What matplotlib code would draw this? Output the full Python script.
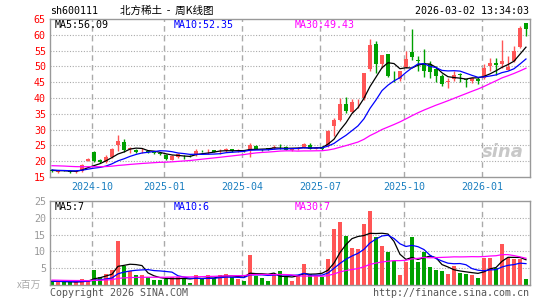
import numpy as np
import matplotlib
matplotlib.use("Agg")
import matplotlib.pyplot as plt

# weekly candles, 600111, oldest first
open_ = [17.2, 16.6, 17.05, 17.0, 16.5, 16.9, 20.2, 23.0, 20.4, 19.8,
         21.2, 25.2, 26.0, 23.9, 23.7, 23.4, 23.3, 22.8, 22.5, 22.0,
         20.5, 21.3, 21.6, 21.8, 21.9, 23.3, 23.2, 23.4, 23.2, 23.7,
         23.8, 23.4, 23.5, 23.6, 24.8, 23.6, 24.0, 24.2, 24.8, 24.5,
         23.6, 23.9, 24.3, 25.2, 24.0, 24.6, 24.7, 31.0, 33.1, 38.1,
         35.7, 39.0, 39.9, 49.1, 57.0, 50.8, 53.9, 46.7, 46.1, 49.8,
         54.5, 52.0, 51.2, 50.7, 49.1, 47.0, 45.0, 45.9, 47.5, 45.9,
         45.3, 45.9, 46.4, 50.2, 51.2, 50.7, 49.0, 51.7, 56.2, 63.6]
close = [16.9, 16.8, 17.0, 16.5, 16.8, 18.8, 20.7, 20.2, 19.6, 21.3,
         24.0, 26.3, 23.4, 24.1, 22.9, 23.5, 22.9, 22.5, 22.2, 20.6,
         21.7, 22.2, 21.5, 21.6, 23.3, 23.2, 23.3, 23.0, 23.3, 23.8,
         23.1, 23.5, 23.1, 25.0, 24.0, 23.5, 23.9, 24.6, 24.7, 23.7,
         23.7, 24.1, 25.3, 24.0, 24.1, 23.9, 29.7, 33.0, 38.2, 35.9,
         38.6, 39.1, 47.8, 56.7, 50.8, 53.5, 47.0, 46.5, 48.5, 52.4,
         53.0, 51.6, 48.5, 48.3, 47.1, 44.4, 45.4, 47.2, 47.3, 45.7,
         46.2, 45.5, 49.55, 51.2, 50.6, 51.7, 49.85, 54.9, 62.3, 61.7]
high = [17.4, 17.0, 17.2, 17.1, 17.0, 19.2, 20.9, 23.1, 20.7, 22.0,
        24.2, 28.2, 27.0, 24.4, 24.0, 24.3, 23.5, 23.0, 22.7, 22.2,
        22.0, 22.7, 22.1, 22.0, 24.0, 23.7, 24.0, 23.6, 23.8, 24.2,
        24.0, 23.9, 23.7, 25.7, 25.1, 23.8, 24.3, 25.1, 25.3, 24.7,
        24.0, 24.4, 25.8, 25.8, 24.4, 24.9, 29.9, 33.7, 39.9, 40.3,
        39.6, 39.8, 48.0, 58.8, 58.0, 53.6, 53.9, 48.6, 48.7, 54.9,
        61.7, 53.3, 55.4, 51.7, 50.1, 47.5, 46.2, 48.5, 47.8, 46.1,
        46.8, 46.5, 50.7, 52.6, 52.5, 58.2, 53.2, 56.5, 62.7, 63.8]
low = [16.7, 16.2, 16.8, 16.4, 16.3, 16.6, 20.0, 19.9, 19.4, 19.5,
       21.0, 23.1, 23.0, 22.6, 22.7, 22.6, 22.7, 22.2, 21.9, 20.4,
       20.3, 21.0, 20.7, 21.3, 21.5, 22.8, 22.4, 22.8, 22.4, 22.9,
       22.9, 23.0, 22.9, 21.2, 23.8, 23.2, 23.6, 24.0, 24.0, 23.5,
       23.3, 23.7, 24.1, 23.9, 23.8, 23.7, 24.5, 28.0, 32.8, 35.4,
       35.4, 36.8, 39.5, 48.4, 48.0, 49.5, 46.5, 45.1, 45.4, 49.5,
       52.0, 48.5, 46.6, 46.4, 45.0, 43.8, 43.1, 45.4, 45.0, 43.5,
       44.9, 44.5, 45.9, 48.6, 47.2, 49.6, 48.8, 51.5, 55.9, 59.6]
# volume, millions of shares
volume = [1.3, 0.8, 0.8, 0.8, 0.8, 1.8, 1.4, 4.4, 2.4, 3.4,
          4.4, 13.2, 5.8, 4.1, 2.9, 2.9, 2.3, 1.5, 1.4, 1.7,
          2.5, 2.3, 2.0, 0.5, 2.9, 2.0, 2.9, 2.0, 2.9, 3.4,
          2.3, 1.9, 1.2, 8.8, 2.7, 2.1, 1.2, 2.9, 4.1, 2.4,
          1.3, 3.0, 6.2, 3.2, 2.7, 2.3, 7.6, 16.8, 18.8, 14.7,
          11.1, 10.8, 18.2, 22.1, 14.4, 11.5, 9.7, 7.2, 2.9, 6.8,
          14.4, 6.8, 9.7, 5.3, 4.5, 4.1, 3.2, 5.6, 3.5, 3.2,
          2.9, 2.1, 7.9, 7.9, 5.2, 12.1, 8.1, 7.8, 7.8, 1.8]
# weeks before the window, only used to start the moving averages
prior_close = [18.2, 18.9, 19.6, 19.3, 19.8, 20.4, 20.1, 19.5, 19.9, 20.3,
               19.6, 19.0, 18.7, 18.4, 18.9, 19.2, 18.6, 18.8, 19.4, 18.5,
               17.8, 17.5, 17.3, 17.1, 16.9, 17.3, 17.0, 17.2, 17.1]
prior_vol = [1.8, 2.1, 1.6, 1.4, 1.9, 2.2, 1.7, 1.5, 1.3, 1.6,
             1.8, 1.4, 1.2, 1.5, 1.7, 1.9, 1.6, 1.3, 1.4, 1.5,
             1.2, 1.1, 1.3, 1.0, 1.2, 0.9, 1.1, 1.0, 1.2]

month_idx = [7, 19, 32, 45, 59, 72]
month_lbl = ["2024-10", "2025-01", "2025-04", "2025-07", "2025-10", "2026-01"]

RED = "#ff5555"
GREEN = "#00a000"
MONO = "DejaVu Sans Mono"
W, H = 545, 300


def ma(prior, vals, n):
    s = np.array(prior + vals, dtype=float)
    out = np.convolve(s, np.ones(n) / n, mode="valid")
    return out[-len(vals):]


x = np.arange(len(close))
o = np.array(open_)
c = np.array(close)
up = c >= o
cols = np.where(up, RED, GREEN)

fig = plt.figure(figsize=(W / 100, H / 100), dpi=100)
ax = fig.add_axes([50 / W, 1 - 177 / H, 480 / W, 158 / H])
axv = fig.add_axes([50 / W, 1 - 285 / H, 480 / W, 84 / H])

for a in (ax, axv):
    a.set_xlim(-0.33, len(close) - 0.33)
    for s in a.spines.values():
        s.set_color("#999999")
        s.set_linewidth(1)
    a.tick_params(length=0, pad=3)
    a.set_xticks([])
    for m in month_idx:
        a.axvline(m - 0.33, color="#aaaaaa", lw=1, ls=(0, (4, 3)), zorder=0)

# price panel
ax.set_ylim(15, 65)
ax.set_yticks(range(15, 66, 5))
ax.set_yticklabels([str(v) for v in range(15, 66, 5)], color="red",
                   family=MONO, fontsize=7.2)
for v in range(20, 65, 5):
    ax.axhline(v, color="#aaaaaa", lw=0.8, ls=(0, (1, 1.5)), zorder=0)

ax.vlines(x, low, high, colors=cols, lw=1, zorder=2)
body = np.maximum(np.abs(c - o), 0.18)
ax.bar(x, body, bottom=np.minimum(o, c), width=0.78, color=cols,
       linewidth=0, zorder=3)

p5 = ma(prior_close, close, 5)
p10 = ma(prior_close, close, 10)
p30 = ma(prior_close, close, 30)
ax.plot(x, p5, color="black", lw=0.9, zorder=4)
ax.plot(x, p10, color="#0000ff", lw=0.9, zorder=4)
ax.plot(x, p30, color="#ff00ff", lw=0.9, zorder=4)

# volume panel
axv.set_ylim(0, 25)
axv.set_yticks(range(5, 26, 5))
axv.set_yticklabels([str(v) for v in range(5, 26, 5)], color="#999999",
                    family=MONO, fontsize=7.2)
for v in range(5, 25, 5):
    axv.axhline(v, color="#aaaaaa", lw=0.8, ls=(0, (1, 1.5)), zorder=0)
axv.bar(x, volume, width=0.78, color=cols, linewidth=0, zorder=2)
v5 = ma(prior_vol, volume, 5)
v10 = ma(prior_vol, volume, 10)
v30 = ma(prior_vol, volume, 30)
axv.plot(x, v5, color="black", lw=0.9, zorder=4)
axv.plot(x, v10, color="#0000ff", lw=0.9, zorder=4)
axv.plot(x, v30, color="#ff00ff", lw=0.9, zorder=4)


def ftext(px, py, s, **kw):
    kw.setdefault("family", MONO)
    kw.setdefault("fontsize", 7.2)
    fig.text(px / W, 1 - py / H, s, va="center", **kw)


# month labels under the price panel
for m, lbl in zip(month_idx, month_lbl):
    xp = 52 + 6 * (m - 0.33)
    ftext(xp, 187, lbl, color="#1a7fc0", ha="center")

ftext(50, 11, "sh600111", color="black")
ftext(120, 11, "北方稀土  -  周K线图", color="black",
      family=["Noto Sans CJK SC", "DejaVu Sans"], fontsize=7.6)
ftext(529, 11, "2026-03-02 13:34:03", color="black", ha="right")

ftext(55, 25, "MA5:%.2f" % p5[-1], color="black")
ftext(174, 25, "MA10:%.2f" % p10[-1], color="#0000ff")
ftext(295, 25, "MA30:%.2f" % p30[-1], color="#ff00ff")

ftext(55, 207, "MA5:%d" % v5[-1], color="black")
ftext(174, 207, "MA10:%d" % v10[-1], color="#0000ff")
ftext(295, 207, "MA30:%d" % v30[-1], color="#ff00ff")

ftext(17, 285, "x百万", color="#aaaaaa",
      family=["Noto Sans CJK SC", "DejaVu Sans"], fontsize=7)
ftext(50, 293, "Copyright 2026 SINA.COM", color="#555555")
ftext(529, 293, "http://finance.sina.com.cn", color="#555555", ha="right")

# watermark
ftext(503, 152, "sina", color="#c8c8c8", ha="center", family="DejaVu Sans",
      fontsize=13, fontweight="bold", style="italic")

fig.savefig("out.png", dpi=100)
